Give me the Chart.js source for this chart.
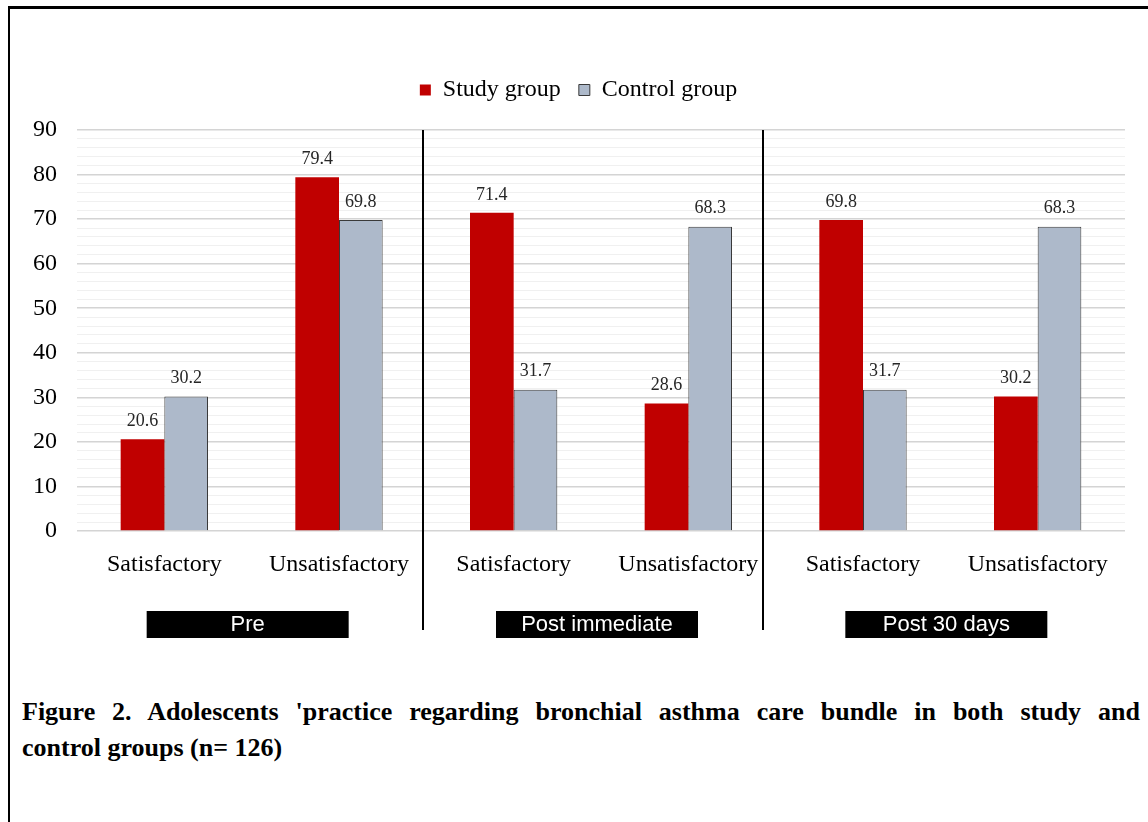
<!DOCTYPE html>
<html>
<head>
<meta charset="utf-8">
<script src="https://cdn.jsdelivr.net/npm/chart.js@4.4.1/dist/chart.umd.min.js"></script>
<style>
  body { margin: 0; background: #fff; width: 1148px; height: 822px; overflow: hidden; position: relative; }
  #frame { position: absolute; left: 8px; top: 6px; width: 1200px; height: 900px; border-top: 3px solid #000; border-left: 2px solid #000; }
  #grafico { position: absolute; left: 0; top: 0; }
  .caption { position: absolute; left: 22px; width: 1118px; font: bold 26px "Liberation Serif", "Times New Roman", serif; color: #000; line-height: 36px; }
  #cap1 { top: 694px; text-align: justify; text-align-last: justify; }
  #cap2 { top: 730px; }
</style>
</head>
<body>
<div id="frame"></div>
<canvas id="grafico" width="1148" height="680"></canvas>
<div class="caption" id="cap1">Figure 2. Adolescents 'practice regarding bronchial asthma care bundle in both study and</div>
<div class="caption" id="cap2">control groups (n= 126)</div>
<script>
const categorias = ["Satisfactory", "Unsatisfactory", "Satisfactory", "Unsatisfactory", "Satisfactory", "Unsatisfactory"];
const fases = ["Pre", "Post immediate", "Post 30 days"];
const estudo = [20.6, 79.4, 71.4, 28.6, 69.8, 30.2];
const controle = [30.2, 69.8, 31.7, 68.3, 31.7, 68.3];
const ticksMaiores = [0, 10, 20, 30, 40, 50, 60, 70, 80, 90];
const divisorias = [1.48, 3.43];

const serif = "'Liberation Serif', 'Times New Roman', serif";

// minor gridlines every 2 units between the major ticks
const todosTicks = [];
ticksMaiores.forEach((v, i) => {
  todosTicks.push(v);
  if (i < ticksMaiores.length - 1) {
    for (let k = 2; k < 10; k += 2) todosTicks.push(v + k);
  }
});

const rotulos = {
  id: "rotulos",
  afterDatasetsDraw(chart) {
    const ctx = chart.ctx;
    ctx.save();
    ctx.font = "18px " + serif;
    ctx.fillStyle = "#262626";
    ctx.textAlign = "center";
    ctx.textBaseline = "bottom";
    chart.data.datasets.forEach((ds, i) => {
      chart.getDatasetMeta(i).data.forEach((bar, j) => {
        ctx.fillText(ds.data[j].toFixed(1), bar.x, bar.y - 9);
      });
    });
    ctx.restore();
  },
  afterDraw(chart) {
    const ctx = chart.ctx;
    const xs = chart.scales.x;
    const area = chart.chartArea;
    ctx.save();
    ctx.strokeStyle = "#000";
    ctx.lineWidth = 2;
    divisorias.forEach((d) => {
      const px = Math.round(xs.getPixelForValue(d));
      ctx.beginPath();
      ctx.moveTo(px, area.top);
      ctx.lineTo(px, 630);
      ctx.stroke();
    });
    ctx.font = "22px 'Liberation Sans', Arial, sans-serif";
    ctx.textAlign = "center";
    ctx.textBaseline = "middle";
    fases.forEach((f, i) => {
      const cx = (xs.getPixelForValue(i * 2) + xs.getPixelForValue(i * 2 + 1)) / 2 - 4;
      ctx.fillStyle = "#000";
      ctx.fillRect(cx - 101, 611, 202, 27);
      ctx.fillStyle = "#fff";
      ctx.fillText(f, cx, 625);
    });
    ctx.restore();
  }
};

const ctx = document.getElementById("grafico").getContext("2d");
const chart = new Chart(ctx, {
  type: "bar",
  data: {
    labels: categorias,
    datasets: [
      {
        label: "Study group",
        data: estudo,
        backgroundColor: "#C00000",
        borderWidth: 0,
        categoryPercentage: 0.5,
        barPercentage: 1
      },
      {
        label: "Control group",
        data: controle,
        backgroundColor: "#ADB9CA",
        borderColor: "#3A3A3A",
        borderWidth: 1,
        categoryPercentage: 0.5,
        barPercentage: 1
      }
    ]
  },
  options: {
    responsive: false,
    animation: false,
    devicePixelRatio: 1,
    layout: { padding: { top: 60, left: 32, right: 23, bottom: 89 } },
    plugins: {
      legend: {
        display: true,
        position: "top",
        weight: 3000,
        labels: {
          font: { family: serif, size: 24 },
          color: "#000",
          boxWidth: 11,
          boxHeight: 11,
          padding: 18
        }
      },
      subtitle: {
        display: true,
        text: " ",
        font: { size: 10, lineHeight: 1 },
        padding: { top: 4, bottom: 4 }
      },
      tooltip: { enabled: false }
    },
    scales: {
      x: {
        grid: { display: false },
        border: { display: false },
        ticks: {
          font: { family: serif, size: 24 },
          color: "#000",
          padding: 11,
          maxRotation: 0,
          autoSkip: false
        },
        afterFit: (scale) => { scale.height = 60; }
      },
      y: {
        min: 0,
        max: 90,
        border: { display: false },
        grid: {
          drawTicks: false,
          color: (c) => (c.tick && c.tick.value % 10 === 0 ? "#D4D4D4" : "#F0F0F0"),
          lineWidth: (c) => (c.tick && c.tick.value % 10 === 0 ? 1.5 : 1)
        },
        afterBuildTicks: (scale) => { scale.ticks = todosTicks.map((v) => ({ value: v })); },
        ticks: {
          autoSkip: false,
          font: { family: serif, size: 24 },
          color: "#000",
          padding: 20,
          callback: (v) => (v % 10 === 0 ? v : "")
        },
        afterFit: (scale) => { scale.width = 45; }
      }
    }
  },
  plugins: [rotulos]
});
</script>
</body>
</html>
